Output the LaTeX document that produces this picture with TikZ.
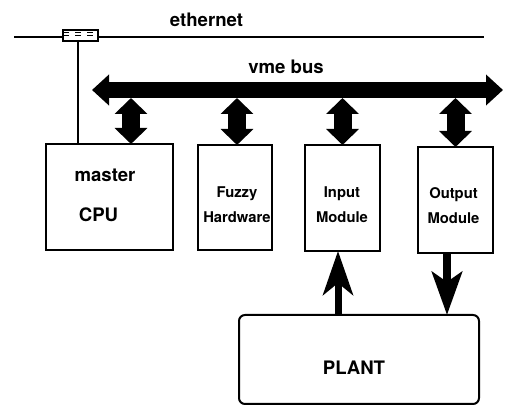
\documentclass[tikz,border=0pt]{standalone}
\usepackage{fontspec}
\setmainfont{TeX Gyre Heros}
\usetikzlibrary{arrows.meta}
\tikzset{unit/.style = {draw, line width=1pt, outer sep=0pt, inner sep=0pt}}
\tikzset{bigtxt/.style = {font=\bfseries\fontsize{9.3pt}{20pt}\selectfont, align=center}}
\tikzset{smalltxt/.style = {font=\bfseries\fontsize{7.4pt}{12.5pt}\selectfont, align=center}}
\tikzset{vmelink/.style = {line width=9pt, {Triangle[length=8pt,width=16pt]}-{Triangle[length=8pt,width=16pt]}}}

\begin{document}
\begin{tikzpicture}[x=0.5pt, y=-0.5pt]
\useasboundingbox (0,0) rectangle (510,406);
% ethernet and tap
\coordinate (ethl) at (14,37);
\coordinate (ethr) at (484,37);
\draw [line width=1pt] (ethl) -- (ethr);
\node [unit, fill=white, minimum width=17.5pt, minimum height=5.5pt] (tap) at (80.5,35.5) {};
\draw [thin, dashed] ([yshift=-1.3pt]tap.north west) -- ([yshift=-1.3pt]tap.north east);
\draw [thin, dashed] (tap.west) -- (tap.east);
\node [bigtxt, anchor=base] (eth) at (206.5,27) {ethernet};
% boards
\node [unit, minimum width=63.5pt, minimum height=53pt] (mcpu) at (109.5,197) {};
\node [unit, minimum width=37pt, minimum height=52.5pt] (fuzzy) at (235,197.5) {};
\node [unit, minimum width=37.5pt, minimum height=53pt] (inmod) at (342.5,198) {};
\node [unit, minimum width=37.5pt, minimum height=53pt] (outmod) at (455.5,200) {};
\node [unit, rounded corners=3pt, minimum width=120pt, minimum height=44.5pt] (plant) at (359,359.5) {};
\node [bigtxt] (mcputxt) at (105,195.5) {master\\CPU\hspace*{6.5pt}};
\node [smalltxt] (fuzzytxt) at (237,205) {Fuzzy\\Hardware};
\node [smalltxt] (inmodtxt) at (342,205) {Input\\Module};
\node [smalltxt] (outmodtxt) at (453.5,206) {Output\\Module};
\node [bigtxt, anchor=base] (planttxt) at (354,375) {PLANT};
\draw [line width=0.7pt] ([xshift=-1.25pt]tap.south) -- ([xshift=-1.25pt]tap.south |- mcpu.north);
% vme bus
\coordinate (busl) at (92,90);
\coordinate (busr) at (503,90);
\coordinate (busb) at (92,98);
\draw [line width=8pt, {Triangle[length=8.5pt,width=15pt]}-{Triangle[length=8.5pt,width=15pt]}] (busl) -- (busr);
\node [bigtxt, anchor=base] (bus) at (286,74) {vme bus};
\foreach \b/\s in {mcpu/10.75pt, fuzzy/1pt, inmod/0pt, outmod/0pt}
  \draw [vmelink] ([xshift=\s]\b.north |- busb) -- ([xshift=\s]\b.north);
% plant i/o
\draw [line width=3.5pt, -{Stealth[length=22pt,width=15pt,inset=6pt]}] ([xshift=-2.25pt]inmod.south |- plant.north) -- ([xshift=-2.25pt]inmod.south);
\draw [line width=4pt, -{Stealth[length=21.5pt,width=15pt,inset=5pt]}] ([xshift=-4.25pt]outmod.south) -- ([xshift=-4.25pt]outmod.south |- plant.north);
\end{tikzpicture}
\end{document}
